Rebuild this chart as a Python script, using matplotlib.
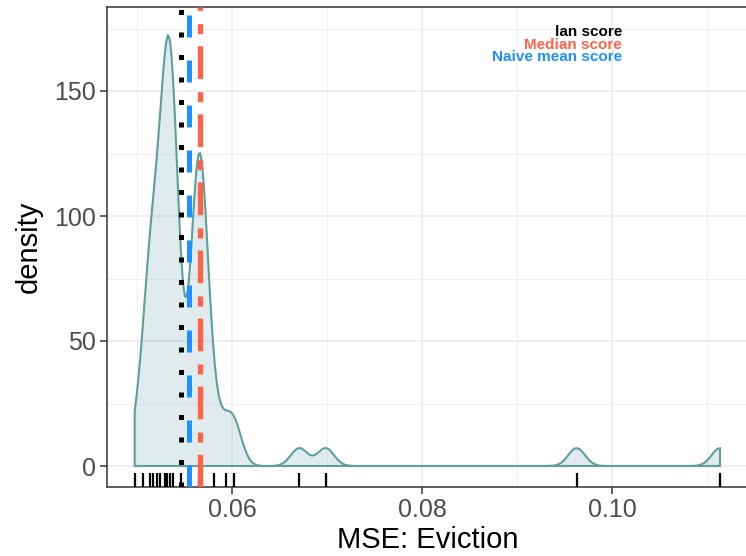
#!/usr/bin/env python3
"""
Density plot of eviction MSE scores with rug and reference score lines.
"""

import numpy as np
import matplotlib
matplotlib.use('Agg')  # Use non-interactive backend
import matplotlib.pyplot as plt

# MSE scores (distinct values) and how many runs gave each one
scores = [0.04976, 0.05063, 0.05134, 0.05168, 0.05214, 0.05245, 0.05298,
          0.05321, 0.05347, 0.05379, 0.05461, 0.05656, 0.05811, 0.05940,
          0.06021, 0.06708, 0.06986, 0.09628, 0.11137]
counts = [1, 1, 5, 4, 2, 1, 1, 5, 12, 4, 1, 17, 2, 1, 2, 1, 1, 1, 1]

# reference scores drawn as vertical lines
mean_score = 0.05461
median_score = 0.05663
naive_mean_score = 0.05549

legend_labels = ["lan score", "Median score", "Naive mean score"]

bandwidth = 0.00089
x_ticks = [0.06, 0.08, 0.10]
x_tick_labels = ["0.06", "0.08", "0.10"]
y_ticks = [0, 50, 100, 150]

DENSITY_COLOR = "#5F9EA0"   # cadetblue
MEDIAN_COLOR = "#FF6347"    # tomato
NAIVE_COLOR = "#1E90FF"     # dodgerblue
AXIS_COLOR = "#333333"
GRID_COLOR = "#EBEBEB"


def gaussian_kde(values, weights, bw, n_points=512):
    """Weighted gaussian density evaluated between min and max (like geom_density)."""
    values = np.asarray(values, dtype=float)
    weights = np.asarray(weights, dtype=float)
    grid = np.linspace(values.min(), values.max(), n_points)
    z = (grid[:, None] - values[None, :]) / bw
    dens = (np.exp(-0.5 * z ** 2) * weights).sum(axis=1)
    dens /= weights.sum() * bw * np.sqrt(2 * np.pi)
    return grid, dens


def main():
    plt.rcParams['font.family'] = ['Liberation Sans', 'DejaVu Sans']

    fig = plt.figure(figsize=(7.46, 5.56), dpi=100)
    ax = fig.add_axes([107 / 746, 1 - 487 / 556, 642 / 746, 480 / 556])

    grid, dens = gaussian_kde(scores, counts, bandwidth)

    # density area with full outline (baseline and end walls included)
    poly_x = np.concatenate([[grid[0]], grid, [grid[-1]]])
    poly_y = np.concatenate([[0], dens, [0]])
    ax.fill(poly_x, poly_y, facecolor=DENSITY_COLOR, alpha=0.2, edgecolor='none', zorder=2)
    ax.fill(poly_x, poly_y, facecolor='none', edgecolor=DENSITY_COLOR, linewidth=1.5, zorder=3)

    # rug along the bottom of the panel
    ax.vlines(scores, 0, 0.03, transform=ax.get_xaxis_transform(),
              colors='black', linewidth=1.6, zorder=4)

    # reference lines
    ax.axvline(mean_score, color='black', linewidth=3.6,
               linestyle=(0, (1, 3.5)), zorder=5)
    ax.axvline(naive_mean_score, color=NAIVE_COLOR, linewidth=3.6,
               linestyle=(0, (4.4, 4.6)), zorder=5)
    ax.axvline(median_score, color=MEDIAN_COLOR, linewidth=3.8,
               linestyle=(0, (6.2, 2.3, 1.9, 2.5)), zorder=5)

    # hand-made legend in the top right
    for label, color, yv in zip(legend_labels, ['black', MEDIAN_COLOR, NAIVE_COLOR],
                                [173.6, 168.4, 163.6]):
        ax.text(0.10105, yv, label, color=color, ha='right', va='center',
                fontsize=11, fontweight='bold', zorder=6)

    ax.set_xlim(0.046842, 0.114422)
    ax.set_ylim(-8.4, 183.6)

    ax.set_xticks(x_ticks)
    ax.set_xticklabels(x_tick_labels)
    ax.set_xticks([0.05, 0.07, 0.09, 0.11], minor=True)
    ax.set_yticks(y_ticks)
    ax.set_yticks([25, 75, 125, 175], minor=True)

    ax.grid(True, which='major', color=GRID_COLOR, linewidth=1.1)
    ax.grid(True, which='minor', color=GRID_COLOR, linewidth=0.55)
    ax.set_axisbelow(True)

    for side in ['left', 'bottom', 'top', 'right']:
        ax.spines[side].set_color(AXIS_COLOR)
        ax.spines[side].set_linewidth(1.1)

    ax.tick_params(axis='both', which='major', direction='out', length=5,
                   width=1.1, color=AXIS_COLOR, labelcolor='#4D4D4D',
                   labelsize=18, pad=3)
    ax.tick_params(axis='both', which='minor', length=0)

    ax.set_xlabel("MSE: Eviction", fontsize=21, color='black', labelpad=3)
    ax.set_ylabel("density", fontsize=21, color='black', labelpad=8)

    fig.savefig('out.png', dpi=100)
    plt.close(fig)


if __name__ == "__main__":
    main()
